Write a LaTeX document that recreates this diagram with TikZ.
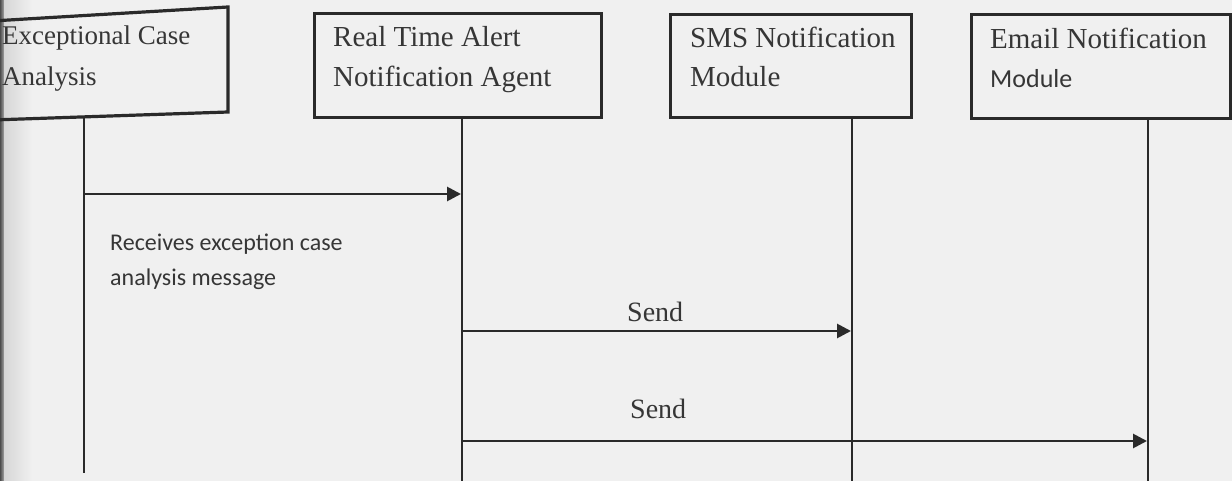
\documentclass[tikz,border=0pt]{standalone}
\usepackage{fontspec}
\setmainfont{Liberation Serif}
\newfontfamily\carlito{Carlito}
\usetikzlibrary{arrows.meta}
\definecolor{bg}{HTML}{F0F0F0}
\definecolor{ink}{HTML}{2A2A2A}
\definecolor{txt}{HTML}{363636}
\begin{document}
\begin{tikzpicture}[x=1pt,y=-1pt,
  lbl/.style={font=\fontsize{29}{40}\selectfont, text=txt, inner sep=0pt, anchor=base west},
  ecalbl/.style={font=\fontsize{27}{40}\selectfont, text=txt, inner sep=0pt, anchor=base west},
  sendlbl/.style={font=\fontsize{28}{34}\selectfont, text=txt, inner sep=0pt, anchor=base west},
  sanslbl/.style={font=\carlito\fontsize{24}{30}\selectfont, text=txt, inner sep=0pt, anchor=base west},
  modlbl/.style={font=\carlito\fontsize{26}{30}\selectfont, text=txt, inner sep=0pt, anchor=base west},
  box/.style={draw=ink, line width=3.2pt, line join=miter},
  life/.style={draw=ink, line width=2.8pt},
  msg/.style={draw=ink, line width=2.8pt, -{Triangle[length=14pt,width=14pt]}},
]
\useasboundingbox (0,0) rectangle (1232,481);
\clip (0,0) rectangle (1232,481);
\fill[bg] (0,0) rectangle (1232,481);
% binding shadow
\shade[left color=black!70, right color=black!35] (0,0) rectangle (4,481);
\shade[left color=black!16, right color=bg] (4,0) rectangle (32,481);
% boxes
\draw[box] (-8,21) -- (228,7) -- (228,112) -- (-8,120);
\node[box, minimum width=287pt, minimum height=104pt, anchor=north west, inner sep=0pt] (rta) at (313,12) {};
\node[box, minimum width=241pt, minimum height=103pt, anchor=north west, inner sep=0pt] (sms) at (669,13) {};
\node[box, minimum width=259pt, minimum height=104pt, anchor=north west, inner sep=0pt] (email) at (970,13) {};
% box texts
\node[ecalbl] (eca1) at (2,45) {Exceptional Case};
\node[ecalbl] (eca2) at (2,86) {Analysis};
\node[lbl] (rta1) at (333,47) {Real Time Alert};
\node[lbl] (rta2) at (333,87) {Notification Agent};
\node[lbl] (sms1) at (690,48) {SMS Notification};
\node[lbl] (sms2) at (690,87) {Module};
\node[lbl] (em1) at (990,49) {Email Notification};
\node[modlbl] (em2) at (990,88) {Module};
% lifelines
\coordinate (ecaTop) at (84,117.5);
\coordinate (ecaEnd) at (84,473);
\coordinate (rtaEnd) at (462,481);
\coordinate (smsEnd) at (852,481);
\coordinate (emEnd) at (1148,481);
\draw[life] (ecaTop) -- (ecaEnd);
\draw[life] (rtaEnd |- rta.south) -- (rtaEnd);
\draw[life] (smsEnd |- sms.south) -- (smsEnd);
\draw[life] (emEnd |- email.south) -- (emEnd);
% messages
\coordinate (m1a) at (84,194);
\coordinate (m1b) at (461,194);
\coordinate (m2a) at (462,331);
\coordinate (m2b) at (851,331);
\coordinate (m3a) at (462,441);
\coordinate (m3b) at (1147,441);
\draw[msg] (m1a) -- (m1b);
\draw[msg] (m2a) -- (m2b);
\draw[msg] (m3a) -- (m3b);
\node[sanslbl] (r1) at (110,251) {Receives exception case};
\node[sanslbl] (r2) at (110,286) {analysis message};
\node[sendlbl] (s1) at (627,321) {Send};
\node[sendlbl] (s2) at (630,418) {Send};
\end{tikzpicture}
\end{document}
